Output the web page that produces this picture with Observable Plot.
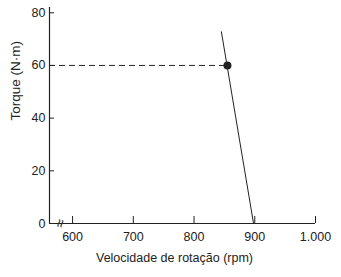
<!DOCTYPE html>
<html><head><meta charset="utf-8">
<script src="https://cdn.jsdelivr.net/npm/d3@7"></script>
<script src="https://cdn.jsdelivr.net/npm/@observablehq/plot@0.6"></script>
<style>body{margin:0;background:#fff}</style>
</head><body><div id="chart"></div>
<script>
const speedLine = [845, 898];      // rpm
const torqueLine = [72.8, 0];      // N·m
const opSpeed = [855];
const opTorque = [60];
const xTicks = [600, 700, 800, 900, 1000];
const xTickLabels = ["600", "700", "800", "900", "1.000"];
const yTicks = [0, 20, 40, 60, 80];
const xDomain = [562, 1000];
const yDomain = [0, 82];
const breakAt = [580];

const line = speedLine.map((s, i) => ({s, t: torqueLine[i]}));
const op = opSpeed.map((s, i) => ({s, t: opTorque[i]}));
const ink = "#222";

const chart = Plot.plot({
  width: 341, height: 277,
  marginLeft: 49, marginRight: 26, marginTop: 7, marginBottom: 54,
  style: {fontFamily: "'Liberation Sans', Arial, sans-serif", fontSize: "12px", color: ink, background: "#fff"},
  x: {domain: xDomain},
  y: {domain: yDomain},
  marks: [
    Plot.ruleX([xDomain[0]], {stroke: ink, strokeWidth: 1.2}),
    Plot.ruleY([0], {stroke: ink, strokeWidth: 1.2}),
    Plot.axisY({ticks: yTicks, tickSize: -5, tickPadding: 9, stroke: ink, fill: ink, fontSize: 12.5, label: null}),
    Plot.axisX({ticks: xTicks, tickFormat: (d) => xTickLabels[xTicks.indexOf(d)], tickSize: -7, tickPadding: 16, stroke: ink, fill: ink, fontSize: 12.5, label: null}),
    Plot.text(["Torque (N·m)"], {frameAnchor: "left", dx: -34, dy: 5, rotate: -90, fill: ink, fontSize: 13.5}),
    Plot.text(["Velocidade de rotação (rpm)"], {frameAnchor: "bottom", dx: -8, dy: 38, fill: ink, fontSize: 12.5}),
    Plot.text(breakAt, {x: d => d, y: 0, text: () => "≈", rotate: -78, fontSize: 15, fill: ink}),
    Plot.ruleY(op, {y: "t", x1: xDomain[0], x2: "s", stroke: ink, strokeDasharray: "6,4", strokeWidth: 1}),
    Plot.line(line, {x: "s", y: "t", stroke: ink, strokeWidth: 1}),
    Plot.dot(op, {x: "s", y: "t", r: 4, fill: ink})
  ]
});
document.getElementById("chart").append(chart);
</script></body></html>
